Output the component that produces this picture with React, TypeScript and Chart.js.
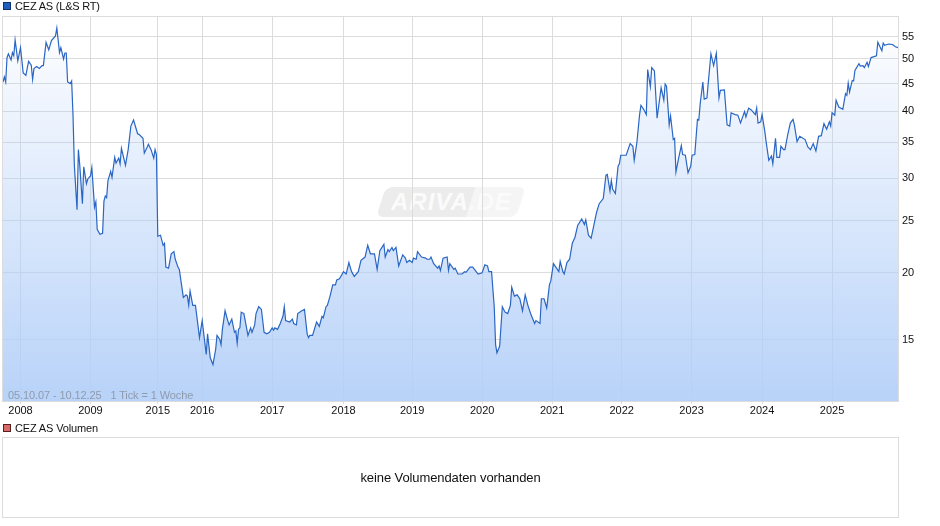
import { useEffect, useRef } from "react"
import { Chart, registerables } from "chart.js"

Chart.register(...registerables)

// one tick is one week, counted from the first quote
const weeks = [
  0, 1, 2, 3, 4, 6, 7, 8, 9, 11, 13, 15, 17, 19, 21, 22, 23, 25, 27, 29,
  30, 32, 34, 36, 39, 40, 42, 43, 45, 46, 47, 48, 50, 51, 52, 53, 55, 56, 57, 59,
  60, 62, 63, 65, 66, 68, 69, 70, 72, 74, 75, 76, 77, 78, 80, 81, 83, 84, 86, 87,
  88, 91, 93, 95, 97, 100, 101, 104, 105, 107, 108, 110, 112, 113, 114, 115, 117, 119, 120, 121,
  123, 125, 127, 128, 130, 131, 134, 136, 137, 138, 139, 141, 143, 146, 148, 151, 152, 154, 156, 158,
  159, 161, 162, 163, 165, 167, 168, 170, 172, 173, 174, 175, 176, 177, 179, 182, 184, 185, 187, 188,
  190, 192, 194, 196, 198, 200, 201, 202, 204, 206, 208, 209, 210, 213, 215, 216, 218, 219, 222, 224,
  226, 227, 228, 230, 233, 235, 237, 238, 240, 241, 243, 245, 247, 248, 250, 253, 255, 257, 259, 261,
  264, 266, 269, 271, 273, 276, 278, 280, 283, 284, 286, 287, 289, 290, 292, 294, 297, 299, 300, 302,
  304, 305, 307, 308, 311, 314, 315, 317, 318, 320, 323, 324, 325, 327, 330, 331, 332, 335, 336, 338,
  341, 343, 344, 347, 349, 351, 353, 356, 358, 360, 361, 363, 365, 366, 367, 369, 371, 373, 375, 377,
  378, 380, 382, 384, 386, 388, 390, 392, 395, 396, 399, 400, 402, 404, 406, 407, 409, 413, 414, 416,
  417, 419, 421, 423, 425, 427, 430, 432, 433, 435, 437, 439, 441, 443, 446, 448, 449, 451, 452, 453,
  455, 457, 458, 459, 463, 466, 468, 469, 471, 473, 474, 476, 478, 479, 481, 482, 484, 486, 489, 491,
  492, 493, 495, 496, 498, 499, 500, 502, 504, 505, 507, 509, 511, 512, 514, 516, 517, 518, 520, 521,
  523, 526, 528, 530, 532, 533, 536, 538, 540, 541, 544, 546, 548, 551, 552, 554, 556, 559, 560, 561,
  563, 564, 566, 567, 569, 571, 572, 574, 575, 577, 578, 580, 581, 583, 585, 587, 588, 590, 592, 596,
  598, 600, 602, 604, 606, 608, 610, 612, 614, 615, 616, 618, 619, 621, 624, 626, 627, 628, 629, 631,
  632, 633, 636, 637, 639, 640, 642, 643, 645, 649, 650, 653, 654, 655, 658, 661, 663, 665,
]

const closes = [
  45.3, 46.3, 45.3, 50.3, 51.1, 49.8, 51.4, 50.7, 54.2, 49.6, 52.5, 47.1, 46.6, 49.5, 48.7, 45.8, 48.0, 48.4, 48.0, 48.6,
  48.6, 53.7, 52.0, 54.1, 55.2, 57.1, 51.4, 52.5, 50.0, 51.3, 51.3, 45.3, 45.0, 45.5, 39.4, 31.8, 26.2, 33.9, 31.8, 26.9,
  31.5, 29.3, 29.9, 30.3, 31.4, 26.5, 27.1, 24.1, 23.6, 23.7, 27.2, 27.8, 27.6, 29.7, 30.9, 30.1, 32.8, 32.0, 32.7, 31.9,
  34.1, 31.7, 33.9, 37.5, 38.5, 36.3, 36.2, 35.6, 33.4, 34.2, 34.7, 33.9, 32.7, 33.9, 33.2, 23.4, 23.5, 22.5, 22.7, 20.5,
  20.4, 21.7, 21.9, 21.2, 20.5, 20.3, 18.0, 18.2, 18.1, 17.4, 18.5, 17.4, 17.4, 15.15, 16.3, 14.1, 15.4, 13.9, 13.5, 14.4,
  15.3, 15.05, 14.7, 15.7, 17.0, 16.3, 16.0, 16.4, 15.5, 15.6, 14.8, 15.7, 15.8, 16.9, 16.8, 15.3, 15.8, 15.5, 16.0, 16.8,
  17.3, 17.1, 15.5, 15.4, 15.5, 15.8, 15.65, 15.8, 15.7, 16.1, 16.6, 17.3, 16.3, 16.2, 16.4, 16.1, 16.0, 16.8, 17.0, 17.1,
  15.4, 15.15, 15.3, 15.3, 16.2, 15.9, 16.6, 16.5, 17.3, 17.4, 18.1, 19.0, 19.0, 19.4, 19.5, 20.1, 19.9, 20.9, 20.1, 19.7,
  20.1, 21.1, 21.4, 22.5, 21.7, 21.7, 20.3, 22.0, 22.6, 21.4, 22.1, 21.9, 22.3, 22.0, 22.3, 20.6, 21.6, 21.3, 20.9, 21.1,
  20.9, 21.3, 21.2, 21.9, 21.4, 21.3, 21.2, 21.2, 21.4, 20.8, 20.4, 20.6, 20.2, 21.3, 21.4, 20.2, 20.8, 20.3, 20.4, 19.9,
  19.9, 20.1, 20.05, 20.5, 20.5, 20.2, 19.9, 20.0, 20.7, 20.6, 20.1, 20.1, 17.3, 14.7, 14.2, 14.6, 17.3, 16.9, 16.8, 17.4,
  18.8, 18.1, 18.2, 17.9, 17.0, 18.2, 17.4, 16.8, 16.1, 16.3, 16.1, 17.9, 17.9, 17.2, 19.0, 19.3, 20.8, 20.1, 21.0, 20.1,
  19.9, 20.9, 21.2, 22.7, 23.3, 24.5, 25.2, 24.6, 25.1, 23.5, 23.2, 24.5, 25.9, 26.9, 27.5, 30.4, 30.5, 28.4, 29.7, 28.6,
  28.1, 31.6, 31.9, 33.1, 33.1, 34.8, 34.4, 32.4, 35.0, 39.4, 41.0, 40.3, 39.4, 47.8, 44.4, 48.2, 47.5, 38.8, 44.2, 41.9,
  44.9, 44.5, 37.7, 39.2, 35.4, 35.6, 30.8, 32.7, 34.5, 33.2, 33.1, 30.7, 31.6, 33.1, 33.2, 38.6, 38.5, 41.2, 45.3, 42.1,
  42.3, 51.1, 48.6, 51.2, 42.3, 43.7, 43.8, 37.7, 37.5, 39.7, 39.4, 39.3, 38.0, 39.9, 39.0, 40.5, 40.2, 39.4, 40.5, 38.0,
  38.2, 39.4, 36.7, 35.1, 32.4, 33.0, 31.9, 35.6, 32.8, 32.8, 34.4, 33.9, 33.9, 36.1, 38.0, 38.6, 37.7, 35.1, 35.9, 35.4,
  34.3, 33.9, 34.8, 33.7, 35.9, 36.0, 37.9, 37.0, 38.2, 37.5, 39.7, 39.3, 41.9, 40.7, 40.3, 43.1, 42.8, 45.1, 43.4, 45.6,
  45.5, 47.6, 49.0, 48.5, 48.6, 48.2, 49.3, 48.4, 50.3, 50.7, 53.7, 51.8, 53.5, 53.0, 53.3, 53.2, 52.7, 52.5,
]

const yearLabels = ["2008", "2009", "2015", "2016", "2017", "2018", "2019", "2020", "2021", "2022", "2023", "2024", "2025"]
const yearWeeks = [13, 65, 115, 148, 200, 253, 304, 356, 408, 459.7, 511.6, 564, 616]
const priceTicks = [15, 20, 25, 30, 35, 40, 45, 50, 55]

const FONT = "'Liberation Sans', Arial, sans-serif"
const GRID = "#dcdcdc"

const frame = {
  id: "frame",
  afterDatasetsDraw(chart: Chart) {
    const { ctx, chartArea: a } = chart
    ctx.save()
    ctx.strokeStyle = GRID
    ctx.lineWidth = 1
    ctx.strokeRect(a.left - 0.5, a.top - 0.5, a.width + 1, a.height)
    ctx.restore()
  },
}

function marker(top: number, color: string, border: string): React.CSSProperties {
  return {
    position: "absolute",
    left: 3,
    top,
    width: 6,
    height: 6,
    background: color,
    border: `1px solid ${border}`,
  }
}

export default function App() {
  const chartRef = useRef<HTMLCanvasElement>(null)

  useEffect(() => {
    if (!chartRef.current) return

    const chart = new Chart(chartRef.current, {
      type: "line",
      data: {
        datasets: [
          {
            data: weeks.map((w, i) => ({ x: w, y: closes[i] })),
            borderColor: "#2a66c4",
            borderWidth: 1.2,
            pointRadius: 0,
            tension: 0,
            fill: "start",
            backgroundColor: (c: any) => {
              const { ctx, chartArea } = c.chart
              if (!chartArea) return "transparent"
              const g = ctx.createLinearGradient(0, chartArea.top, 0, chartArea.bottom)
              g.addColorStop(0, "rgba(178,207,248,0)")
              g.addColorStop(1, "rgba(178,207,248,0.93)")
              return g
            },
          },
        ],
      },
      options: {
        responsive: false,
        animation: false,
        layout: { padding: { left: 3, top: 17 } },
        plugins: { legend: { display: false }, tooltip: { enabled: false } },
        scales: {
          x: {
            type: "linear",
            min: 0,
            max: 665,
            afterBuildTicks: (s: any) => {
              s.ticks = yearWeeks.map((v) => ({ value: v }))
            },
            afterFit: (s: any) => {
              s.height = 124
            },
            grid: { color: GRID, tickLength: 2, tickColor: GRID },
            border: { display: false },
            ticks: {
              autoSkip: false,
              maxRotation: 0,
              padding: 0,
              color: "#111",
              font: { family: FONT, size: 11 },
              callback: (v: any) => yearLabels[yearWeeks.indexOf(Number(v))] ?? "",
            },
          },
          y: {
            type: "logarithmic",
            position: "right",
            min: 11.5,
            max: 59.85,
            afterBuildTicks: (s: any) => {
              s.ticks = priceTicks.map((v) => ({ value: v }))
            },
            afterFit: (s: any) => {
              s.width = 42
            },
            grid: { color: GRID, drawTicks: false },
            border: { display: false },
            ticks: {
              autoSkip: false,
              padding: 4,
              color: "#111",
              font: { family: FONT, size: 11 },
              callback: (v: any) => String(v),
            },
          },
        },
      },
      plugins: [frame],
    } as any)

    return () => chart.destroy()
  }, [])

  return (
    <div style={{ position: "absolute", left: 0, top: 0, width: 940, height: 526, fontFamily: FONT, fontSize: 11, color: "#111", overflow: "hidden" }}>
      <div
        style={{
          position: "absolute",
          left: 381,
          top: 187,
          width: 140,
          height: 30,
          borderRadius: 7,
          transform: "skewX(-18deg)",
          background: "linear-gradient(90deg, #ececec 0 64%, #f5f5f5 64% 100%)",
          color: "#fbfbfb",
          fontStyle: "italic",
          fontWeight: "bold",
          fontSize: 24,
          lineHeight: "30px",
          textAlign: "center",
          letterSpacing: 1,
        }}
      >
        <span style={{ display: "inline-block", transform: "skewX(18deg)" }}>ARIVA.DE</span>
      </div>

      <canvas ref={chartRef} width={940} height={526} style={{ position: "absolute", left: 0, top: 0 }} />

      <div style={marker(2, "#1f5fbf", "#12306a")} />
      <div style={{ position: "absolute", left: 15, top: 0, lineHeight: "12px", letterSpacing: -0.2 }}>CEZ AS (L&amp;S RT)</div>

      <div style={{ position: "absolute", left: 8, top: 388, fontSize: 11, lineHeight: "14px", letterSpacing: -0.1, color: "rgba(110,110,110,0.55)", whiteSpace: "pre" }}>
        05.10.07 - 10.12.25   1 Tick = 1 Woche
      </div>

      <div style={marker(424, "#d96a6a", "#5a2020")} />
      <div style={{ position: "absolute", left: 15, top: 422, lineHeight: "12px", letterSpacing: -0.15 }}>CEZ AS Volumen</div>

      <div
        style={{
          position: "absolute",
          left: 2,
          top: 437,
          width: 895,
          height: 79,
          border: `1px solid ${GRID}`,
          display: "flex",
          alignItems: "center",
          justifyContent: "center",
          fontSize: 13,
          letterSpacing: -0.1,
        }}
      >
        keine Volumendaten vorhanden
      </div>
    </div>
  )
}
